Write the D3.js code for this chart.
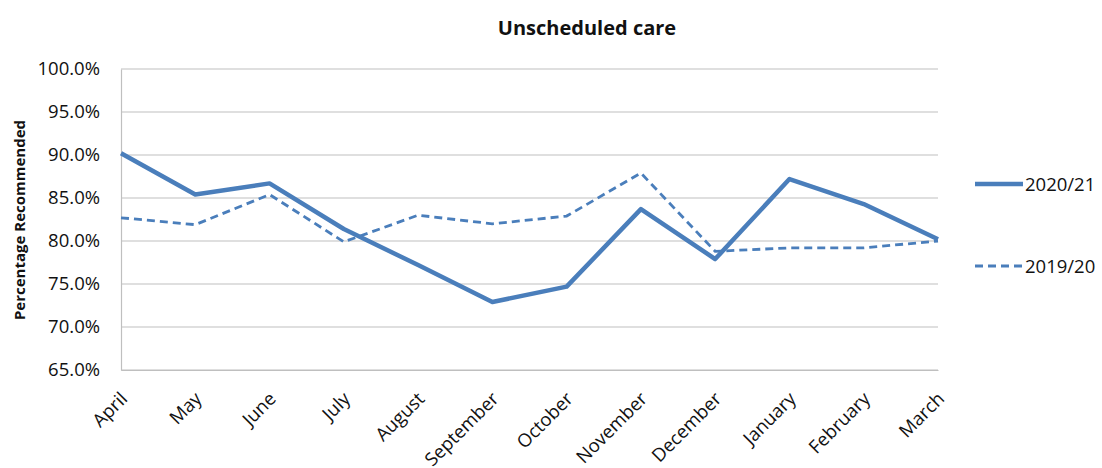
<!DOCTYPE html>
<html>
<head>
<meta charset="utf-8">
<script src="https://cdn.jsdelivr.net/npm/d3@7"></script>
<style>
  body { margin: 0; background: #fff; }
  svg text { font-family: "Open Sans", "Liberation Sans", sans-serif; fill: #111; }
</style>
</head>
<body>
<svg id="chart" width="1102" height="468"></svg>
<script>
// chart data
var months = ["April", "May", "June", "July", "August", "September",
    "October", "November", "December", "January", "February", "March"];
var current = [90.2, 85.4, 86.7, 81.4, 77.2, 72.9, 74.7, 83.7, 77.9, 87.2, 84.3, 80.2];
var previous = [82.7, 81.9, 85.4, 79.9, 83.0, 82.0, 82.9, 87.9, 78.8, 79.2, 79.2, 80.0];
var yTicks = [65, 70, 75, 80, 85, 90, 95, 100];
var seriesNames = ["2020/21", "2019/20"];

var blue = "#4a7ebb";
var svg = d3.select("#chart");

var plotLeft = 121, plotRight = 938, plotTop = 69, plotBottom = 370;

var x = d3.scalePoint()
    .domain(months)
    .range([plotLeft, plotRight]);

var y = d3.scaleLinear()
    .domain([65, 100])
    .range([plotBottom, plotTop]);

// Title
svg.append("text")
    .attr("x", 587)
    .attr("y", 35)
    .attr("text-anchor", "middle")
    .style("font-size", "20px")
    .style("font-weight", "bold")
    .text("Unscheduled care");

// Gridlines
svg.append("g")
    .selectAll("line")
    .data(yTicks)
    .join("line")
    .attr("x1", plotLeft)
    .attr("x2", plotRight)
    .attr("y1", d => y(d))
    .attr("y2", d => y(d))
    .style("stroke", "#bfbfbf")
    .style("stroke-width", 1.2);

// Y axis
var yAxis = svg.append("g")
    .attr("transform", "translate(" + plotLeft + ",0)")
    .call(d3.axisLeft(y).tickValues(yTicks).tickSize(0).tickPadding(21)
        .tickFormat(d => d.toFixed(1) + "%"));
yAxis.select(".domain").style("stroke", "#bfbfbf").style("stroke-width", 1.2);
yAxis.selectAll("text")
    .style("font-size", "18.5px")
    .style("font-family", "'Open Sans', sans-serif");

// X axis, labels slanted at 45 degrees
var xAxis = svg.append("g")
    .attr("transform", "translate(0," + plotBottom + ")")
    .call(d3.axisBottom(x).tickSize(0).tickPadding(0));
xAxis.select(".domain").style("stroke", "#bfbfbf").style("stroke-width", 1.2);
xAxis.selectAll("text")
    .style("font-size", "18.5px")
    .style("font-family", "'Open Sans', sans-serif")
    .attr("text-anchor", "end")
    .attr("dy", null)
    .attr("y", 0)
    .attr("transform", "translate(7,30) rotate(-45)");

// Y axis title
svg.append("text")
    .attr("transform", "translate(25,220) rotate(-90)")
    .attr("text-anchor", "middle")
    .style("font-size", "15px")
    .style("font-weight", "bold")
    .text("Percentage Recommended");

// Lines
var line = d3.line()
    .x((d, i) => x(months[i]))
    .y(d => y(d));

svg.append("path")
    .datum(previous)
    .attr("d", line)
    .style("fill", "none")
    .style("stroke", blue)
    .style("stroke-width", 2.8)
    .style("stroke-dasharray", "8,5");

svg.append("path")
    .datum(current)
    .attr("d", line)
    .style("fill", "none")
    .style("stroke", blue)
    .style("stroke-width", 4.5)
    .style("stroke-linejoin", "round");

// Legend
var legend = svg.append("g");
var legendY = [184, 266];
legend.selectAll("line")
    .data(seriesNames)
    .join("line")
    .attr("x1", 975)
    .attr("x2", 1023)
    .attr("y1", (d, i) => legendY[i])
    .attr("y2", (d, i) => legendY[i])
    .style("stroke", blue)
    .style("stroke-width", (d, i) => i == 0 ? 4.5 : 2.8)
    .style("stroke-dasharray", (d, i) => i == 0 ? null : "8,5");
legend.selectAll("text")
    .data(seriesNames)
    .join("text")
    .attr("x", 1025)
    .attr("y", (d, i) => legendY[i] + 7)
    .style("font-size", "18.5px")
    .text(d => d);
</script>
</body>
</html>
